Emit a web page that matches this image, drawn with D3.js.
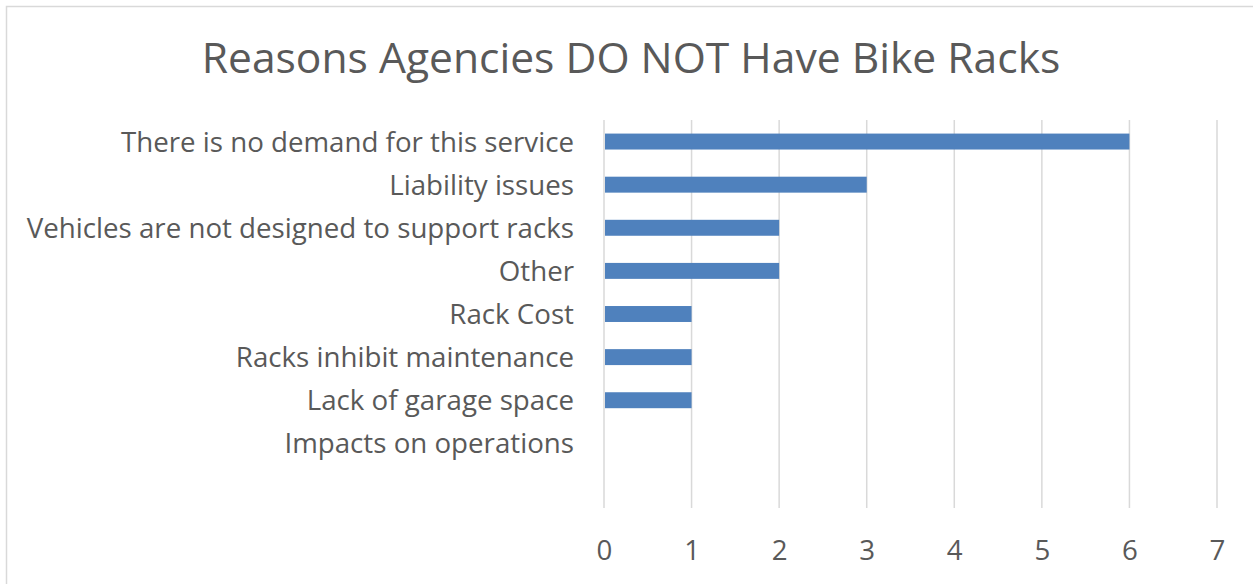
<!DOCTYPE html>
<html lang="en">
<head>
    <meta charset="UTF-8">
    <title>Reasons Agencies DO NOT Have Bike Racks</title>
    <script src="https://d3js.org/d3.v7.min.js"></script>
    <style>
        * { margin: 0; padding: 0; box-sizing: border-box; }
        body { background: #ffffff; font-family: 'Open Sans', sans-serif; overflow: hidden; }
        svg { display: block; }
        .grid line { stroke: #d9d9d9; stroke-width: 1.5; }
        .label { fill: #595959; font-size: 27.7px; font-family: 'Open Sans', sans-serif; }
        .title { fill: #595959; font-size: 42.6px; font-family: 'Open Sans', sans-serif; }
    </style>
</head>
<body>
    <div id="chart"></div>
    <script>
        // Chart data
        const categories = [
            "There is no demand for this service",
            "Liability issues",
            "Vehicles are not designed to support racks",
            "Other",
            "Rack Cost",
            "Racks inhibit maintenance",
            "Lack of garage space",
            "Impacts on operations"
        ];
        const counts = [6, 3, 2, 2, 1, 1, 1, 0];
        const tickValues = [0, 1, 2, 3, 4, 5, 6, 7];

        const W = 1253, H = 584;
        const plot = { left: 604, right: 1217, top: 120, bottom: 508 };
        // one empty slot is left under the last category
        const bandSize = (plot.bottom - plot.top) / (categories.length + 1);

        const svg = d3.select("#chart").append("svg")
            .attr("width", W)
            .attr("height", H);

        // chart frame, cropped on the right and bottom in the original
        svg.append("rect")
            .attr("x", 6.5).attr("y", 6.5)
            .attr("width", W + 20).attr("height", H + 20)
            .attr("fill", "#ffffff")
            .attr("stroke", "#d9d9d9")
            .attr("stroke-width", 1.5);

        svg.append("text")
            .attr("class", "title")
            .attr("x", 631)
            .attr("y", 73)
            .attr("text-anchor", "middle")
            .text("Reasons Agencies DO NOT Have Bike Racks");

        const x = d3.scaleLinear()
            .domain([0, 7])
            .range([plot.left, plot.right]);

        const y = d3.scaleBand()
            .domain(categories)
            .range([plot.top, plot.top + bandSize * categories.length])
            .paddingInner(0.63)
            .paddingOuter(0.315);

        // vertical gridlines
        svg.append("g")
            .attr("class", "grid")
            .selectAll("line")
            .data(tickValues)
            .join("line")
            .attr("x1", d => x(d)).attr("x2", d => x(d))
            .attr("y1", plot.top).attr("y2", plot.bottom);

        // bars
        svg.append("g")
            .selectAll("rect")
            .data(categories)
            .join("rect")
            .attr("x", x(0) + 1)
            .attr("y", d => y(d))
            .attr("width", (d, i) => Math.max(0, x(counts[i]) - x(0) - 1))
            .attr("height", y.bandwidth())
            .attr("fill", "#4f81bd");

        // category labels
        const yAxis = svg.append("g")
            .attr("transform", `translate(${plot.left},0)`)
            .call(d3.axisLeft(y).tickSize(0).tickPadding(30));
        yAxis.select(".domain").remove();
        yAxis.selectAll("text")
            .attr("class", "label")
            .attr("dy", "0.36em")
            .attr("fill", null);

        // value axis labels
        const xAxis = svg.append("g")
            .attr("transform", `translate(0,${plot.bottom})`)
            .call(d3.axisBottom(x).tickValues(tickValues).tickSize(0).tickPadding(32).tickFormat(d3.format("d")));
        xAxis.select(".domain").remove();
        xAxis.selectAll("text")
            .attr("class", "label")
            .attr("fill", null);
    </script>
</body>
</html>
